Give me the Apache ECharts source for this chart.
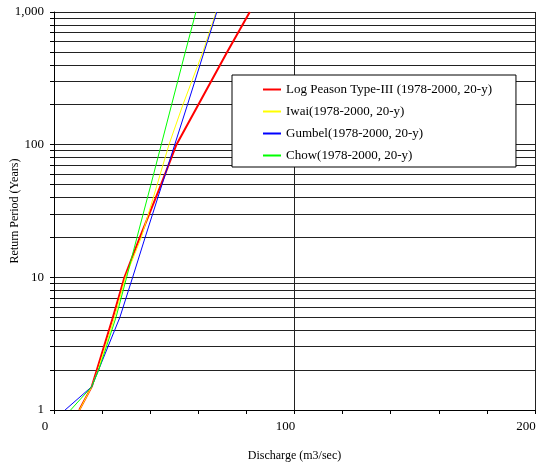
<!DOCTYPE html>
<html>
<head>
<meta charset="utf-8">
<script src="https://cdn.jsdelivr.net/npm/echarts@6/dist/echarts.min.js"></script>
<style>
  html, body { margin: 0; padding: 0; background: #fff; }
  #chart { width: 536px; height: 464px; }
</style>
</head>
<body>
<div id="chart"></div>
<script>
// return periods (years) on the log axis
const returnPeriods = [1, 1.5, 2, 5, 10, 20, 50, 100, 200, 500, 1000];

// discharge (m3/sec)
const logPearson = [10.5, 15.7, 17.8, 24.5, 29.3, 35.7, 44.5, 50.9, 60.0, 72.0, 81.4];
const iwai = [10.6, 15.7, 18.3, 25.2, 29.7, 36.3, 42.9, 47.8, 53.6, 61.9, 67.4];
const gumbel = [4.6, 15.7, 18.5, 27.4, 32.7, 37.9, 44.9, 50.2, 55.5, 62.4, 67.7];
const chow = [6.9, 15.7, 18.6, 25.8, 30.2, 34.5, 40.3, 44.6, 48.9, 54.6, 59.0];

const seriesNames = [
  'Log Peason Type-III (1978-2000, 20-y)',
  'Iwai(1978-2000, 20-y)',
  'Gumbel(1978-2000, 20-y)',
  'Chow(1978-2000, 20-y)'
];

const yLabelValues = [1, 10, 100, 1000];
const yTickValues = [1, 2, 3, 4, 5, 6, 7, 8, 9, 10, 20, 30, 40, 50, 60, 70, 80, 90,
  100, 200, 300, 400, 500, 600, 700, 800, 900, 1000];
const xLabels = ['0', '100', '200'];

const font = 'Liberation Serif, Times New Roman, serif';

const toPoints = (vals) => vals.map((v, i) => [v, returnPeriods[i]]);

const makeLine = (name, vals, color, width) => ({
  name: name,
  type: 'line',
  data: toPoints(vals),
  symbol: 'none',
  smooth: false,
  lineStyle: { color: color, width: width },
  itemStyle: { color: color },
  z: 3
});

const chart = echarts.init(document.getElementById('chart'));

chart.setOption({
  animation: false,
  backgroundColor: '#fff',
  grid: { left: 54, right: 1, top: 12, bottom: 54, containLabel: false, outerBoundsMode: 'none' },
  legend: {
    data: seriesNames,
    orient: 'vertical',
    left: 232,
    top: 75,
    backgroundColor: '#fff',
    borderColor: '#000',
    borderWidth: 1,
    borderRadius: 0,
    padding: [8, 24, 5, 30],
    itemGap: 9,
    itemWidth: 18,
    itemHeight: 14,
    itemStyle: { opacity: 0 },
    textStyle: { fontFamily: font, fontSize: 13, color: '#000' }
  },
  xAxis: {
    type: 'value',
    min: 0,
    max: 200,
    interval: 100,
    name: 'Discharge (m3/sec)',
    nameLocation: 'middle',
    nameGap: 40,
    nameMoveOverlap: false,
    nameTextStyle: { fontFamily: font, fontSize: 12, color: '#000' },
    axisLine: { lineStyle: { color: '#000', width: 1 } },
    axisTick: { show: true, length: 4, lineStyle: { color: '#000' } },
    minorTick: { show: true, splitNumber: 5, length: 4, lineStyle: { color: '#000' } },
    splitLine: { show: true, lineStyle: { color: '#222', width: 1 } },
    axisLabel: {
      margin: 10,
      padding: [0, 18, 0, 0],
      fontFamily: font,
      fontSize: 13,
      color: '#000',
      formatter: (v) => xLabels[Math.round(v / 100)]
    }
  },
  yAxis: {
    type: 'log',
    logBase: 10,
    min: 1,
    max: 1000,
    name: 'Return Period (Years)',
    nameLocation: 'middle',
    nameGap: 33,
    nameMoveOverlap: false,
    nameTextStyle: { fontFamily: font, fontSize: 12, color: '#000' },
    axisLine: { show: true, lineStyle: { color: '#000', width: 1 } },
    axisTick: { show: true, length: 4, customValues: yTickValues, lineStyle: { color: '#000' } },
    splitLine: { show: true, lineStyle: { color: '#222', width: 1 } },
    axisLabel: {
      margin: 10,
      customValues: yLabelValues,
      fontFamily: font,
      fontSize: 13,
      color: '#000',
      formatter: (v) => Math.round(v).toLocaleString('en-US')
    }
  },
  series: [
    makeLine(seriesNames[0], logPearson, '#ff0000', 2),
    makeLine(seriesNames[1], iwai, '#ffff00', 1),
    makeLine(seriesNames[2], gumbel, '#0000ff', 1),
    makeLine(seriesNames[3], chow, '#00ff00', 1)
  ]
});
</script>
</body>
</html>
